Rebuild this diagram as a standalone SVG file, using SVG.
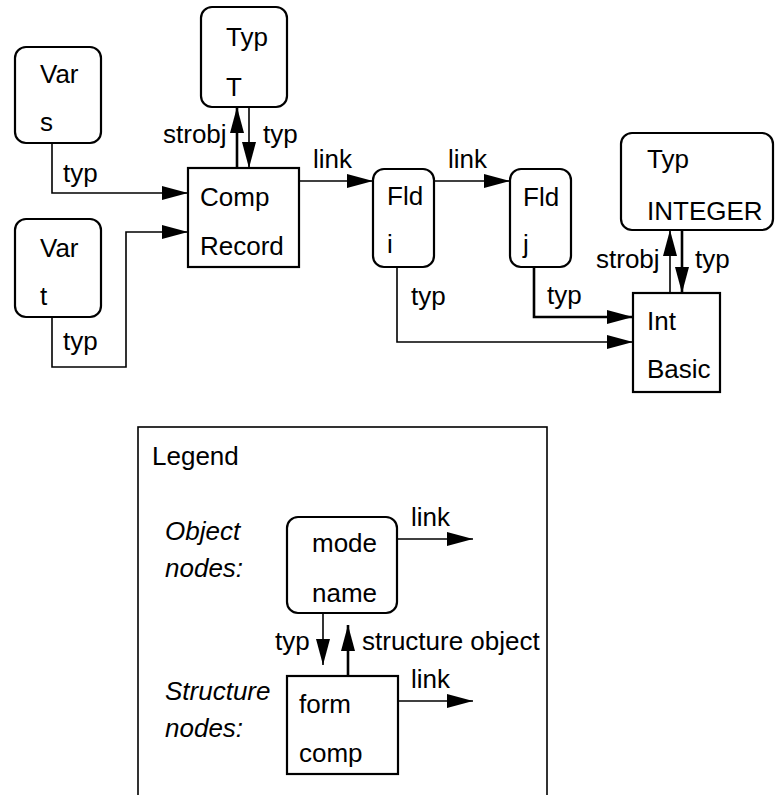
<svg xmlns="http://www.w3.org/2000/svg" width="775" height="795" viewBox="0 0 775 795">
<style>
text{font-family:"Liberation Sans",Arial,sans-serif;font-size:26px;fill:#000}
.it{font-style:italic}
.box{fill:#fff;stroke:#000;stroke-width:2.2}
.c{fill:none;stroke:#000;stroke-width:1.6}
.t{stroke-width:2.6}
.lg{fill:none;stroke:#000;stroke-width:1.6}
</style>
<defs>
<marker id="ah" viewBox="0 0 26 14" markerWidth="26" markerHeight="14" refX="26" refY="7" orient="auto" markerUnits="userSpaceOnUse">
<path d="M0,0 L26,7 L0,14 z" fill="#000"/>
</marker>
</defs>
<rect class="lg" x="138" y="427" width="409" height="390"/>
<g id="connectors">
<polyline class="c" points="52,143 52,193 188,193" marker-end="url(#ah)"/>
<polyline class="c" points="52,317 52,367 126,367 126,232 188,232" marker-end="url(#ah)"/>
<line class="c t" x1="237" y1="168" x2="237" y2="107" marker-end="url(#ah)"/>
<line class="c" x1="249" y1="107" x2="249" y2="168" marker-end="url(#ah)"/>
<line class="c" x1="299" y1="181" x2="373" y2="181" marker-end="url(#ah)"/>
<line class="c" x1="434" y1="181" x2="510" y2="181" marker-end="url(#ah)"/>
<polyline class="c" points="397,267 397,342 633,342" marker-end="url(#ah)"/>
<polyline class="c t" points="534,267 534,317 633,317" marker-end="url(#ah)"/>
<line class="c" x1="670" y1="293" x2="670" y2="230" marker-end="url(#ah)"/>
<line class="c t" x1="682" y1="230" x2="682" y2="293" marker-end="url(#ah)"/>
<line class="c" x1="397" y1="539" x2="473" y2="539" marker-end="url(#ah)"/>
<line class="c" x1="323" y1="613" x2="323" y2="665" marker-end="url(#ah)"/>
<line class="c t" x1="348" y1="676" x2="348" y2="625" marker-end="url(#ah)"/>
<line class="c" x1="398" y1="701" x2="473" y2="701" marker-end="url(#ah)"/>
<text x="63" y="182">typ</text>
<text x="63" y="350">typ</text>
<text x="163" y="143">strobj</text>
<text x="263" y="143">typ</text>
<text x="313" y="168">link</text>
<text x="448" y="168">link</text>
<text x="411" y="305">typ</text>
<text x="547" y="304">typ</text>
<text x="596" y="268">strobj</text>
<text x="695" y="268">typ</text>
<text x="411" y="526">link</text>
<text x="275" y="650">typ</text>
<text x="362" y="650">structure object</text>
<text x="411" y="688">link</text>
</g>
<g id="var_s"><rect class="box" x="15" y="47" width="86" height="96" rx="11"/><text x="40" y="83">Var</text><text x="40" y="131">s</text></g>
<g id="typ_T"><rect class="box" x="201" y="7" width="86" height="100" rx="11"/><text x="226" y="46">Typ</text><text x="226" y="96">T</text></g>
<g id="comp_record"><rect class="box" x="188" y="168" width="111" height="99"/><text x="200" y="206">Comp</text><text x="200" y="255">Record</text></g>
<g id="var_t"><rect class="box" x="15" y="219" width="86" height="98" rx="11"/><text x="40" y="257">Var</text><text x="40" y="305">t</text></g>
<g id="fld_i"><rect class="box" x="373" y="169" width="61" height="98" rx="11"/><text x="387" y="205">Fld</text><text x="387" y="253">i</text></g>
<g id="fld_j"><rect class="box" x="510" y="169" width="61" height="98" rx="11"/><text x="523" y="206">Fld</text><text x="523" y="253">j</text></g>
<g id="typ_integer"><rect class="box" x="621" y="133" width="152" height="97" rx="11"/><text x="647" y="168">Typ</text><text x="647" y="220">INTEGER</text></g>
<g id="int_basic"><rect class="box" x="633" y="293" width="87" height="99"/><text x="647" y="330">Int</text><text x="647" y="378">Basic</text></g>
<g id="legend">
<text x="152" y="465">Legend</text>
<text class="it" x="165" y="540">Object</text>
<text class="it" x="165" y="577">nodes:</text>
<text class="it" x="165" y="700">Structure</text>
<text class="it" x="165" y="737">nodes:</text>
</g>
<g id="legend_object"><rect class="box" x="287" y="517" width="110" height="96" rx="11"/><text x="312" y="552">mode</text><text x="312" y="602">name</text></g>
<g id="legend_structure"><rect class="box" x="287" y="676" width="111" height="98"/><text x="299" y="713">form</text><text x="299" y="762">comp</text></g>
</svg>
